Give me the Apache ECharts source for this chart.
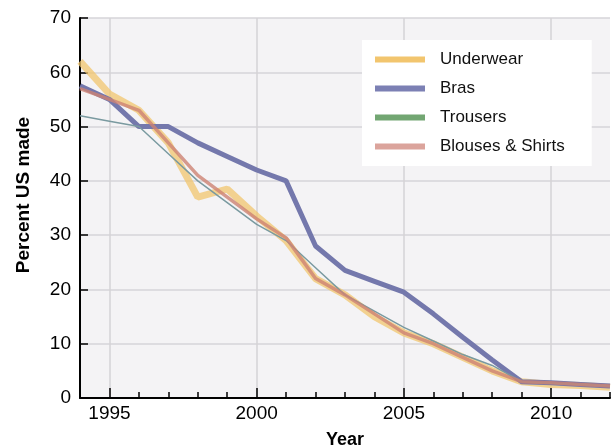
<!DOCTYPE html>
<html><head><meta charset="utf-8">
<script src="https://cdn.jsdelivr.net/npm/echarts@6/dist/echarts.min.js"></script>
<style>html,body{margin:0;padding:0;background:#fff}#c{width:615px;height:447px}</style>
</head><body><div id="c"></div>
<script>
const years = [1994,1995,1996,1997,1998,1999,2000,2001,2002,2003,2004,2005,2006,2007,2008,2009,2010,2011,2012];
const underwear = [62,56,53,47,37,38.5,33.5,29,22,19,15,12,10,7.5,5,3,2.5,2.3,2];
const bras = [57.5,55,50,50,47,44.5,42,40,28,23.5,21.5,19.5,15.5,11.2,7,3,2.8,2.5,2.2];
const trousers = [52,51,50,45,40,36,32,29,24,19,16,13,10.5,8,6,3,2.7,2.5,2.2];
const blouses = [57,55,53,47,41,37,33,29.5,22,19,15.5,12,10,7.5,5,3,2.8,2.5,2.2];
const xLabels = [1995,2000,2005,2010];
const yTicks = [0,10,20,30,40,50,60,70];

const font = 'Liberation Sans, Arial, sans-serif';
const pair = arr => years.map((y,i)=>[y,arr[i]]);
const chart = echarts.init(document.getElementById('c'));
chart.setOption({
  animation:false,
  backgroundColor:'#ffffff',
  grid:{left:80,right:5,top:18,bottom:49,outerBoundsMode:'none',containLabel:false,show:true,backgroundColor:'#f4f3f5',borderWidth:0},
  legend:{
    orient:'vertical',left:362,top:40,
    backgroundColor:'#ffffff',padding:[11,27,11,13],
    itemWidth:50,itemHeight:6,itemGap:12,icon:'rect',
    textStyle:{fontFamily:font,fontSize:17,color:'#111',padding:[0,0,0,10]},
    data:['Underwear','Bras','Trousers','Blouses & Shirts']
  },
  xAxis:[{
    type:'value',min:1994,max:2012,interval:1,
    axisLine:{lineStyle:{color:'#000',width:2}},
    axisTick:{inside:true,length:6,lineStyle:{color:'#000',width:1.5}},
    axisLabel:{fontFamily:font,fontSize:19,color:'#000',margin:6,
      formatter:v=>xLabels.includes(v)?String(v):''},
    splitLine:{show:true,lineStyle:{color:['rgba(0,0,0,0)','#d4d3d6','rgba(0,0,0,0)','rgba(0,0,0,0)','rgba(0,0,0,0)'],width:1.5}},
    name:'Year',nameLocation:'middle',nameGap:33,
    nameTextStyle:{fontFamily:font,fontSize:18,fontWeight:'bold',color:'#000'}
  },{
    type:'value',min:1994,max:2012,position:'bottom',
    axisLine:{show:false},
    axisTick:{show:true,inside:true,length:10,customValues:xLabels,lineStyle:{color:'#000',width:1.5}},
    axisLabel:{show:false},splitLine:{show:false}
  }],
  yAxis:{
    type:'value',min:0,max:70,interval:10,
    axisLine:{show:true,lineStyle:{color:'#000',width:2}},
    axisTick:{show:true,inside:true,length:8,lineStyle:{color:'#000',width:1.5}},
    axisLabel:{fontFamily:font,fontSize:19,color:'#000',margin:9,
      formatter:v=>yTicks.includes(v)?String(v):''},
    splitLine:{show:true,lineStyle:{color:'#d6d5d8',width:1.5}},
    name:'Percent US made',nameLocation:'middle',nameGap:47,
    nameTextStyle:{fontFamily:font,fontSize:19,fontWeight:'bold',color:'#000',padding:[0,0,0,26]}
  },
  series:[
    {name:'Underwear',type:'line',data:pair(underwear),showSymbol:false,z:2,
      itemStyle:{color:'#f2c56e'},lineStyle:{color:'rgba(242,197,110,0.75)',width:7}},
    {name:'Bras',type:'line',data:pair(bras),showSymbol:false,z:3,
      itemStyle:{color:'#7c80b4'},lineStyle:{color:'#7478ac',width:5}},
    {name:'Trousers',type:'line',data:pair(trousers),showSymbol:false,z:4,
      itemStyle:{color:'#72a672'},lineStyle:{color:'#7a9aa0',width:1.5}},
    {name:'Blouses & Shirts',type:'line',data:pair(blouses),showSymbol:false,z:5,
      itemStyle:{color:'#dba49c'},lineStyle:{color:'rgba(205,130,115,0.8)',width:3.5}}
  ]
});
</script></body></html>
